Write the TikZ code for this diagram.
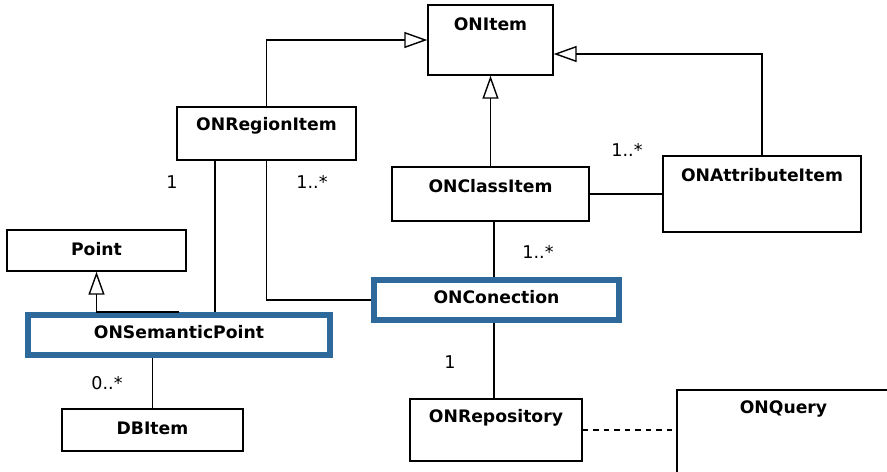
\documentclass[tikz,border=0pt]{standalone}
\usepackage{fontspec}
\setmainfont{DejaVu Sans}
\usetikzlibrary{arrows.meta}
\definecolor{selblue}{RGB}{45,105,155}

\begin{document}
\begin{tikzpicture}[x=0.02cm, y=-0.02cm, line width=0.8pt, font=\fontsize{10}{12}\selectfont,
  cls/.style={draw, inner sep=0pt, label={[anchor=center, yshift=-0.4cm, font=\fontsize{9.8}{12}\selectfont\bfseries]north:#1}},
  sel/.style={cls=#1, draw=selblue, line width=3.4pt},
  gen/.style={-{Triangle[open, length=0.46cm, width=0.32cm]}},
  mult/.style={inner sep=0pt}]
\useasboundingbox (0,0) rectangle (887,471);
\clip (0,0) rectangle (887,471);
% classes
\node[cls=ONItem, minimum width=2.5cm, minimum height=1.4cm] (item) at (490.5,40) {};
\node[cls=ONRegionItem, minimum width=3.58cm, minimum height=1.06cm] (region) at (266.5,133.5) {};
\node[cls=ONClassItem, minimum width=3.94cm, minimum height=1.08cm] (class) at (490.5,194) {};
\node[cls=ONAttributeItem, minimum width=3.96cm, minimum height=1.52cm] (attr) at (762,194) {};
\node[cls=Point, minimum width=3.58cm, minimum height=0.82cm] (point) at (96.5,250.5) {};
\node[sel=ONSemanticPoint, minimum width=6.04cm, minimum height=0.8cm] (sem) at (179,335) {};
\node[sel=ONConection, minimum width=4.9cm, minimum height=0.8cm] (conn) at (496.5,300) {};
\node[cls=ONRepository, minimum width=3.44cm, minimum height=1.24cm] (repo) at (496,430) {};
\node[cls=ONQuery, minimum width=4.26cm, minimum height=1.8cm] (query) at (783.5,435) {};
\node[cls=DBItem, minimum width=3.62cm, minimum height=0.84cm] (db) at (152.5,430) {};
\coordinate (rs) at (215,0);
\coordinate (cc) at (494,0);
% generalizations
\draw[gen] (region.north) |- (item.west);
\draw[gen] (class.north) -- (item.south);
\draw[gen] (attr.north) |- ([yshift=-0.28cm]item.east);
\draw[gen] (sem.north) -| (point.south);
% associations
\draw (class.east) -- (attr.west);
\draw (region.south -| rs) -- (sem.north -| rs);
\draw (region.south) |- (conn.west);
\draw (class.south -| cc) -- (conn.north -| cc);
\draw (conn.south -| cc) -- (repo.north -| cc);
\draw (sem.south -| db.north) -- (db.north);
\draw[dashed] (repo.east) -- (repo.east -| query.west);
% multiplicities
\node[mult] (m1) at (172,182) {1};
\node[mult] (m2) at (312,182) {1..*};
\node[mult] (m3) at (627,150) {1..*};
\node[mult] (m4) at (538,252) {1..*};
\node[mult] (m5) at (450,362) {1};
\node[mult] (m6) at (107,383) {0..*};
\end{tikzpicture}
\end{document}
